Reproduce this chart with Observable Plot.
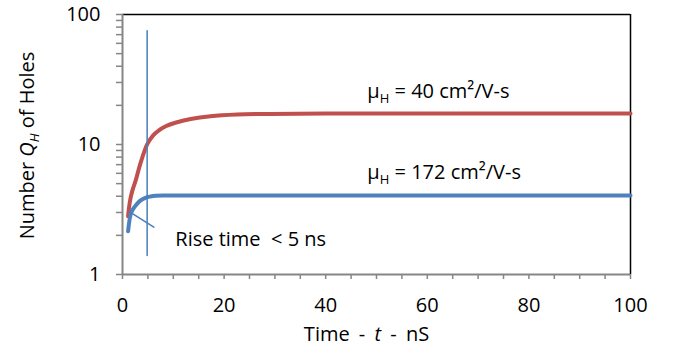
<!DOCTYPE html>
<html><head><meta charset="utf-8">
<script src="https://cdn.jsdelivr.net/npm/d3@7"></script>
<script src="https://cdn.jsdelivr.net/npm/@observablehq/plot@0.6"></script>
<style>
html,body{margin:0;padding:0;background:#fff;}
svg text{white-space:pre;}
</style></head><body><div id="chart"></div>
<script>
// Data
const redTime  = [1.1, 1.3, 1.6, 2, 2.6, 3.5, 4.9, 6, 7.1, 8.5, 10.4, 13.4, 17.3, 22.6, 29, 40, 60, 80, 100];
const redHoles = [2.8, 3.3, 3.9, 4.5, 5.3, 7.1, 10.1, 11.7, 12.8, 13.8, 14.7, 15.7, 16.5, 17.0, 17.2, 17.3, 17.3, 17.3, 17.3];
const blueTime  = [1.1, 1.3, 1.6, 2, 2.6, 3.5, 4.5, 5.5, 6.5, 8, 10, 20, 40, 60, 80, 100];
const blueHoles = [2.15, 2.5, 2.9, 3.15, 3.4, 3.7, 3.89, 3.98, 4.03, 4.05, 4.05, 4.05, 4.05, 4.05, 4.05, 4.05];
const riseLineTime  = [4.85, 4.85];
const riseLineHoles = [1.4, 75];
const slopeTime  = [1.57, 6.16];
const slopeHoles = [3.0, 2.31];
const xMinorTicks = [0,5,10,15,20,25,30,35,40,45,50,55,60,65,70,75,80,85,90,95,100];
const xTickLabels = [0,20,40,60,80,100];
const yMinorTicks = [1,2,3,4,5,6,7,8,9,10,20,30,40,50,60,70,80,90,100];
const yTickLabels = [1,10,100];
const seriesLabels = ["μH = 40 cm²/V-s", "μH = 172 cm²/V-s"];
const riseLabel = "Rise time  < 5 ns";
const xTitle = ["Time - ", "t", " - nS"];
const yTitle = ["Number ", "Q", "H", " of Holes"];

const red = redTime.map((t, i) => ({t, q: redHoles[i]}));
const blue = blueTime.map((t, i) => ({t, q: blueHoles[i]}));
const AX = "#868686";

const chart = Plot.plot({
  width: 675, height: 348,
  marginLeft: 122, marginRight: 45, marginTop: 14, marginBottom: 74,
  x: {domain: [0, 100]},
  y: {type: "log", domain: [1, 100]},
  style: {fontFamily: "'Open Sans', sans-serif", fontSize: "20px", color: "#000", background: "#fff"},
  marks: [
    Plot.axisX(xMinorTicks, {tickSize: 5, fill: "none", stroke: AX, strokeWidth: 1.5, label: null}),
    Plot.axisY(yMinorTicks, {tickSize: 6, fill: "none", stroke: AX, strokeWidth: 1.5, label: null}),
    Plot.ruleY([100], {stroke: "#000", strokeWidth: 1.5}),
    Plot.ruleX([100], {stroke: "#000", strokeWidth: 1.5}),
    Plot.ruleX([0], {stroke: AX, strokeWidth: 2}),
    Plot.ruleY([1], {stroke: AX, strokeWidth: 2}),
    Plot.text(xTickLabels, {x: d => d, y: 1, dy: 31, lineAnchor: "middle", textAnchor: "middle", fontSize: 20}),
    Plot.text(yTickLabels, {x: 0, y: d => d, dx: -22, lineAnchor: "middle", textAnchor: "end", fontSize: 20}),
    Plot.line(red, {x: "t", y: "q", stroke: "#c0504d", strokeWidth: 4, curve: "catmull-rom"}),
    Plot.line(blue, {x: "t", y: "q", stroke: "#4f81bd", strokeWidth: 4, curve: "monotone-x"}),
    Plot.line(riseLineTime, {x: riseLineTime, y: riseLineHoles, stroke: "#4a7ebb", strokeWidth: 1.5}),
    Plot.line(slopeTime, {x: slopeTime, y: slopeHoles, stroke: "#4a7ebb", strokeWidth: 1.5}),
    Plot.text([seriesLabels[0]], {x: 48.2, y: 25.7, textAnchor: "start", lineAnchor: "middle", fontSize: 20, className: "lab40"}),
    Plot.text([seriesLabels[1]], {x: 48.2, y: 6.08, textAnchor: "start", lineAnchor: "middle", fontSize: 20, className: "lab172"}),
    Plot.text([riseLabel], {x: 10.4, y: 1.87, textAnchor: "start", lineAnchor: "middle", fontSize: 20}),
    Plot.text([xTitle.join("")], {frameAnchor: "bottom", dy: 60, dx: -10, lineAnchor: "middle", textAnchor: "middle", fontSize: 20, className: "xtitle"}),
    Plot.text([yTitle.join("")], {frameAnchor: "left", dx: -95, dy: 1, rotate: -90, lineAnchor: "middle", textAnchor: "middle", fontSize: 20, className: "ytitle"})
  ]
});
document.getElementById("chart").appendChild(chart);

function rich(cls, parts) {
  const el = chart.querySelector("g." + cls + " text");
  if (!el) return;
  el.textContent = "";
  const ns = "http://www.w3.org/2000/svg";
  let shifted = false;
  for (const p of parts) {
    const ts = document.createElementNS(ns, "tspan");
    ts.textContent = p.t;
    if (p.italic) ts.setAttribute("font-style", "italic");
    if (p.sub) { ts.setAttribute("font-size", "13"); ts.setAttribute("dy", "5"); shifted = true; }
    else if (shifted) { ts.setAttribute("dy", "-5"); shifted = false; }
    el.appendChild(ts);
  }
}
for (const [cls, s] of [["lab40", seriesLabels[0]], ["lab172", seriesLabels[1]]]) {
  rich(cls, [{t: s.slice(0, 1)}, {t: s.slice(1, 2), sub: true}, {t: s.slice(2)}]);
}
rich("xtitle", [{t: xTitle[0]}, {t: xTitle[1], italic: true}, {t: xTitle[2]}]);
rich("ytitle", [{t: yTitle[0]}, {t: yTitle[1], italic: true}, {t: yTitle[2], italic: true, sub: true}, {t: yTitle[3]}]);
const xt = chart.querySelector("g.xtitle text");
if (xt) xt.setAttribute("word-spacing", "4");
</script></body></html>
